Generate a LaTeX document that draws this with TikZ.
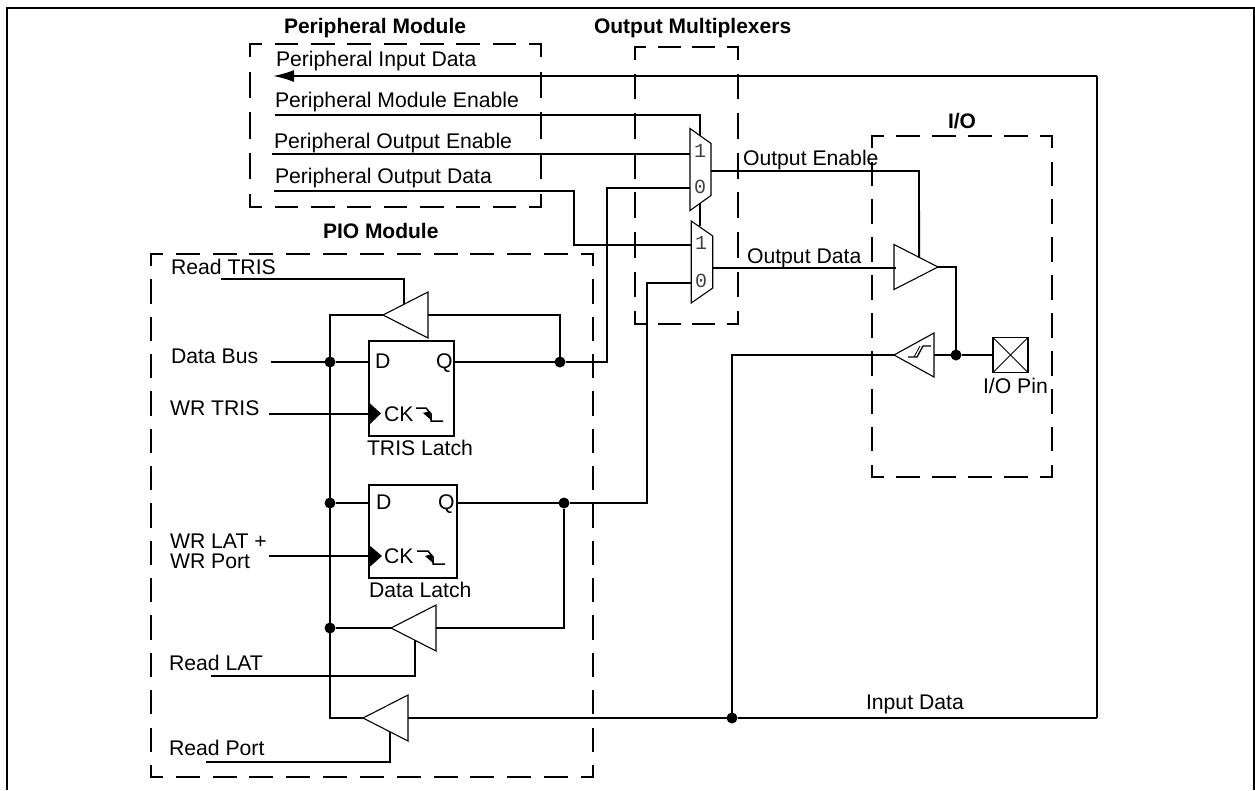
\documentclass[tikz,border=0pt]{standalone}
\usepackage{fontspec}
\setmainfont{Liberation Sans}
\newfontfamily\muxfont{Liberation Mono}
\usetikzlibrary{calc,arrows.meta}
\tikzset{
  wire/.style={line width=1.9pt,line join=miter},
  gate/.style={line width=1.1pt,fill=white,line join=miter},
  blank/.style={rectangle,inner sep=0pt,outer sep=0pt,draw=none},
  latchbox/.style={rectangle,draw,line width=1.9pt,inner sep=0pt,outer sep=0pt},
  lbl/.style={anchor=base west,inner sep=0pt,outer sep=0pt,font=\fontsize{21.2}{24}\selectfont},
  hdr/.style={lbl,font=\fontsize{21}{24}\selectfont\bfseries},
  muxlbl/.style={inner sep=0pt,outer sep=0pt,text=black!75,font=\muxfont\fontsize{20}{22}\selectfont},
  dot/.style={circle,fill=black,draw=none,inner sep=0pt,outer sep=0pt,minimum size=11pt},
}
\newcommand{\moddash}[3]{%
  \pgfmathsetmacro{\onh}{0.6*#2}\pgfmathsetmacro{\offh}{0.4*#2}\pgfmathsetmacro{\phh}{0.3*#2}%
  \pgfmathsetmacro{\onv}{0.6*#3}\pgfmathsetmacro{\offv}{0.4*#3}\pgfmathsetmacro{\phv}{0.3*#3}%
  \draw[wire,line cap=rect,dash pattern=on \onh pt off \offh pt,dash phase=\phh pt] (#1.north west) -- (#1.north east);
  \draw[wire,line cap=rect,dash pattern=on \onh pt off \offh pt,dash phase=\phh pt] (#1.south west) -- (#1.south east);
  \draw[wire,line cap=rect,dash pattern=on \onv pt off \offv pt,dash phase=\phv pt] (#1.north west) -- (#1.south west);
  \draw[wire,line cap=rect,dash pattern=on \onv pt off \offv pt,dash phase=\phv pt] (#1.north east) -- (#1.south east);
}
\begin{document}
\begin{tikzpicture}[x=1pt,y=-1pt]
\useasboundingbox (0,0) rectangle (1255,790);
\fill[white] (0,0) rectangle (1255,790);
% frame
\coordinate (fbl) at (7,790); \coordinate (ftl) at (7,8);
\coordinate (ftr) at (1254,8); \coordinate (fbr) at (1254,790);
\draw[wire,line width=2.2pt] (fbl) -- (ftl) -- (ftr) -- (fbr);
% module boxes
\node[blank,minimum width=291pt,minimum height=163pt] (pbox) at (395.5,125.5) {};
\node[blank,minimum width=103pt,minimum height=277pt] (obox) at (686.5,185.5) {};
\node[blank,minimum width=180pt,minimum height=341pt] (iobox) at (962,306.5) {};
\node[blank,minimum width=442pt,minimum height=523pt] (piobox) at (372,515.5) {};
\moddash{pbox}{36.375}{40.75}
\moddash{obox}{34.33}{39.57}
\moddash{iobox}{36}{37.89}
\moddash{piobox}{36.83}{37.36}
% gates placed as named blanks
\node[blank,minimum width=21pt,minimum height=82pt] (mone) at (700.5,169.5) {};
\node[blank,minimum width=21.5pt,minimum height=82pt] (mtwo) at (702,262) {};
\node[blank,minimum width=44pt,minimum height=45pt] (obuf) at (916,267) {};
\node[blank,minimum width=40pt,minimum height=44pt] (ibuf) at (914,355) {};
\node[blank,minimum width=45pt,minimum height=46pt] (btris) at (405.5,315) {};
\node[blank,minimum width=45pt,minimum height=46pt] (blat) at (413.5,628) {};
\node[blank,minimum width=45pt,minimum height=46pt] (bport) at (385.5,718) {};
\node[latchbox,minimum width=85pt,minimum height=95pt] (ltris) at (411.5,388.5) {};
\node[latchbox,minimum width=88pt,minimum height=93pt] (ldata) at (413,531.5) {};
\node[rectangle,draw,line width=1.9pt,inner sep=0pt,outer sep=0pt,minimum width=35pt,minimum height=35pt] (pin) at (1010.5,355) {};
% free ends and bends
\coordinate (pidfrom) at (1097,76);
\coordinate (pidto) at (273,76);
\coordinate (pmefrom) at (275,115);
\coordinate (pmebend) at (700,115);
\coordinate (pmeend) at (700,226);
\coordinate (poefrom) at (272,154);
\coordinate (podfrom) at (274,191);
\coordinate (podbend) at (574,191);
\coordinate (muxonezero) at (607,188);
\coordinate (muxtwozero) at (647,283);
\coordinate (muxtwoone) at (574,245);
\coordinate (oenout) at (711,171);
\coordinate (oendown) at (919,171);
\coordinate (odout) at (713,268);
\coordinate (odin) at (896,268);
\coordinate (obufout) at (956,267);
\coordinate (datafrom) at (271,362);
\coordinate (wrtfrom) at (269,414);
\coordinate (wrlfrom) at (269,556);
\coordinate (rtfrom) at (221,279);
\coordinate (rlfrom) at (211,676);
\coordinate (rpfrom) at (206,762);
\coordinate (bustop) at (330,315);
\coordinate (busbot) at (330,718);
\coordinate (idright) at (1097,718);
\coordinate (idup) at (732,355);
\coordinate (trisctl) at ($(btris.west)!0.47!(btris.north east)$);
\coordinate (latctl) at ($(blat.west)!0.53!(blat.south east)$);
\coordinate (portctl) at ($(bport.west)!0.6!(bport.south east)$);
\coordinate (obufctl) at ($(obuf.north west)!0.57!(obuf.east)$);
% junctions
\node[dot] (jq) at (560,362) {};
\node[dot] (jd) at (330,362) {};
\node[dot] (jdd) at (330,503) {};
\node[dot] (jqq) at (564,503) {};
\node[dot] (jl) at (330,628) {};
\node[dot] (ji) at (732,718) {};
\node[dot] (jo) at (956,355) {};
% wires
\draw[wire,-{Latex[length=21pt,width=12pt]}] (pidfrom) -- (pidto);
\draw[wire] (idright) -- (pidfrom);
\draw[wire] (pmefrom) -- (pmebend) -- (pmeend);
\draw[wire] (poefrom) -- (poefrom -| mone.west);
\draw[wire] (podfrom) -- (podbend) -- (muxtwoone) -- (muxtwoone -| mtwo.west);
\draw[wire] (ltris.east |- jq) -- (jq) -- (jq -| muxonezero) -- (muxonezero) -- (mone.west |- muxonezero);
\draw[wire] (ldata.east |- jqq) -- (jqq) -- (jqq -| muxtwozero) -- (muxtwozero) -- (mtwo.west |- muxtwozero);
\draw[wire] (oenout) -- (oendown) -- (obufctl);
\draw[wire] (odout) -- (odin);
\draw[wire] (obuf.east) -- (obufout) -- (jo);
\draw[wire] (ibuf.west) -- (idup) -- (ji);
\draw[wire] (ibuf.east) -- (jo) -- (pin.west);
\draw[wire] (idright) -- (ji) -- (bport.east);
\draw[wire] (bport.west) -- (busbot) -- (bustop) -- (btris.west);
\draw[wire] (btris.east) -- (btris.east -| jq) -- (jq);
\draw[wire] (blat.east) -- (blat.east -| jqq) -- (jqq);
\draw[wire] (blat.west) -- (jl);
\draw[wire] (datafrom) -- (jd) -- (ltris.west |- jd);
\draw[wire] (wrtfrom) -- (ltris.west |- wrtfrom);
\draw[wire] (wrlfrom) -- (ldata.west |- wrlfrom);
\draw[wire] (jdd) -- (ldata.west |- jdd);
\draw[wire] (rtfrom) -| (trisctl);
\draw[wire] (rlfrom) -| (latctl);
\draw[wire] (rpfrom) -| (portctl);
% gate outlines
\foreach \g in {btris,blat,bport}
  \draw[gate] (\g.west) -- (\g.north east) -- (\g.south east) -- cycle;
\draw[gate] (ibuf.west) -- (ibuf.north east) -- (ibuf.south east) -- cycle;
\draw[gate,fill=none] (obuf.north west) -- (obuf.east) -- (obuf.south west) -- cycle;
\foreach \m in {mone,mtwo}
  \draw[gate] (\m.north west) -- ($(\m.north east)+(0,15)$) -- ($(\m.south east)+(0,-15)$) -- (\m.south west) -- cycle;
% Schmitt symbol, pin cross, latch clocks
\draw[line width=1.3pt] (908,357) -- (917,357) -- (923,346) -- (931,346);
\draw[line width=0.8pt] (914,357) -- (920,346);
\draw[line width=1pt] (pin.north west) -- (pin.south east);
\draw[line width=1pt] (pin.north east) -- (pin.south west);
\fill (369,402.5) -- (381,413.5) -- (369,425) -- cycle;
\fill (369,545) -- (382,556) -- (369,567.5) -- cycle;
\draw[line width=1.5pt] (416,408) -- (426,408) -- (431,414) -- (431,421) -- (443,421);
\fill (423,413) -- (430,411) -- (431,420) -- cycle;
\draw[line width=1.5pt] (417,551) -- (428,551) -- (433,557) -- (433,564) -- (445,564);
\fill (425,556) -- (432,554) -- (433,563) -- cycle;
% labels
\node[hdr] (tpm) at (284,33) {Peripheral Module};
\node[hdr] (tom) at (594,33) {Output Multiplexers};
\node[hdr] (tio) at (948,128) {I/O};
\node[hdr] (tpio) at (323,238) {PIO Module};
\node[lbl] (tpid) at (276,66) {Peripheral Input Data};
\node[lbl] (tpme) at (275,107) {Peripheral Module Enable};
\node[lbl] (tpoe) at (274,148) {Peripheral Output Enable};
\node[lbl] (tpod) at (275,183) {Peripheral Output Data};
\node[lbl] (toe) at (743,165) {Output Enable};
\node[lbl] (tod) at (747,263) {Output Data};
\node[lbl] (tpin) at (983,393) {I/O Pin};
\node[lbl] (trt) at (171,274) {Read TRIS};
\node[lbl] (tdb) at (171,363) {Data Bus};
\node[lbl] (twt) at (170,415) {WR TRIS};
\node[lbl] (twl) at (170,548) {WR LAT +};
\node[lbl] (twp) at (170,568) {WR Port};
\node[lbl] (trl) at (169,670) {Read LAT};
\node[lbl] (trp) at (169,755) {Read Port};
\node[lbl] (tid) at (866,709) {Input Data};
\node[lbl] (td) at (375,368) {D};
\node[lbl] (tq) at (436,368) {Q};
\node[lbl] (tck) at (384,421) {CK};
\node[lbl] (ttl) at (367,455) {TRIS Latch};
\node[lbl] (tdd) at (376,509) {D};
\node[lbl] (tqq) at (438,509) {Q};
\node[lbl] (tckk) at (384,563) {CK};
\node[lbl] (tdl) at (369,597) {Data Latch};
\node[muxlbl] (mo) at (700,151) {1};
\node[muxlbl] (mz) at (700,187) {0};
\node[muxlbl] (mto) at (701,243) {1};
\node[muxlbl] (mtz) at (701,281) {0};
\end{tikzpicture}
\end{document}
